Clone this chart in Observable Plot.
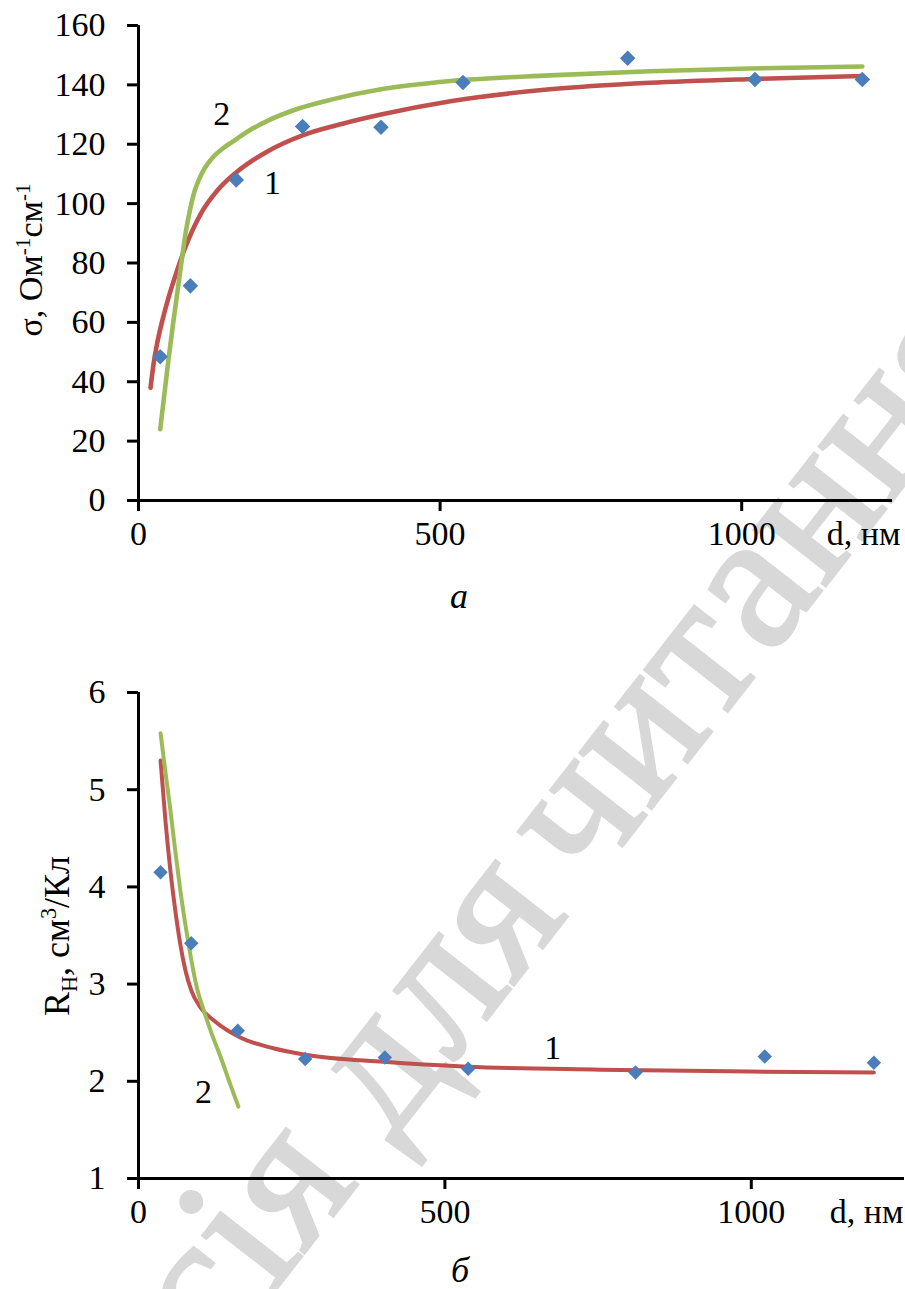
<!DOCTYPE html>
<html><head><meta charset="utf-8">
<script src="https://cdn.jsdelivr.net/npm/d3@7"></script>
<script src="https://cdn.jsdelivr.net/npm/@observablehq/plot@0.6"></script>
<style>
body{margin:0;background:#fff;}
#page{position:relative;width:905px;height:1289px;overflow:hidden;font-family:"Liberation Serif","Times New Roman",serif;color:#000;background:#fff;}
#page svg{position:absolute;left:0;}
.ylab{position:absolute;white-space:nowrap;font-size:34px;line-height:1;transform:translate(-50%,-50%) rotate(-90deg);}
.cap{position:absolute;font-style:italic;font-size:36px;line-height:0.8;transform:translateX(-50%);}
sup,sub{font-size:0.62em;line-height:0;}
</style></head><body><div id="page"></div>
<script>
// ---- data ----
const thickness = [36, 86, 162, 272, 402, 538, 811, 1022, 1200];         // d, nm
const sigmaMeasured = [48.4, 72.3, 108, 126, 125.7, 140.8, 149, 141.8, 141.8];
const hallMeasured = [4.15, 3.42, 2.52, 2.23, 2.245, 2.13, 2.09, 2.255, 2.19];

const sigmaFit1D = [20, 25, 31, 40, 50, 60, 78, 103, 131, 162, 213, 272, 340, 402, 517, 682, 848, 1021, 1200];
const sigmaFit1  = [38, 46, 53, 61, 68.5, 75, 85.5, 96.5, 104.5, 110.5, 117.5, 123, 127, 130, 134.5, 138.5, 140.7, 142, 143];
const sigmaFit2D = [36, 50, 58, 70, 78, 85, 92, 100, 110, 122, 138, 157, 185, 213, 268, 323, 402, 517, 682, 848, 1013, 1200];
const sigmaFit2  = [24, 48, 60.6, 78.5, 90, 97.5, 103.5, 108, 112, 115.3, 118.3, 121, 124.8, 127.8, 132.2, 135.2, 138.5, 141.3, 143.2, 144.6, 145.5, 146.2];

const hallFit1D = [36, 44, 52, 60, 68.5, 76.6, 86.4, 101, 122, 166, 220, 275, 400, 536, 753, 998, 1200];
const hallFit1  = [5.30, 4.68, 4.17, 3.76, 3.40, 3.14, 2.93, 2.76, 2.63, 2.45, 2.34, 2.27, 2.20, 2.15, 2.12, 2.10, 2.09];
const hallFit2D = [36, 44, 52, 60, 68.5, 82, 95, 107, 120, 134, 148, 163];
const hallFit2  = [5.58, 5.18, 4.79, 4.37, 3.95, 3.40, 2.97, 2.72, 2.48, 2.25, 2.00, 1.74];

const xTicks = [0, 500, 1000];
const sigmaTicks = [0, 20, 40, 60, 80, 100, 120, 140, 160];
const hallTicks = [1, 2, 3, 4, 5, 6];

const curveNames = ["1", "2"];
const sigmaLabelD = [222, 138], sigmaLabelV = [107, 130];
const hallLabelD = [676, 106], hallLabelV = [2.34, 1.885];

const xLabel = "d, нм";
const watermark = ["Версія для", "читання"];

// ---- build ----
const BLUE = "#4a7ebb", RED = "#c0504d", GREEN = "#9bbb59";
const FONT = "'Liberation Serif', 'Times New Roman', serif";
const FS = 34;
const zip = (xs, ys) => xs.map((d, i) => ({d, v: ys[i]}));
const labs = (xs, ys) => xs.map((d, i) => ({d, v: ys[i], t: curveNames[i]}));
const page = document.getElementById("page");

// watermark (behind the charts)
const ns = "http://www.w3.org/2000/svg";
const wm = document.createElementNS(ns, "svg");
wm.setAttribute("width", 905); wm.setAttribute("height", 1289); wm.style.top = "0px";
const g = document.createElementNS(ns, "g");
g.setAttribute("transform", "translate(588,890) rotate(-52)");
g.setAttribute("font-family", FONT); g.setAttribute("font-size", 198); g.setAttribute("fill", "#d8d8d8");
g.setAttribute("stroke", "#d8d8d8"); g.setAttribute("stroke-width", 3);
const t1 = document.createElementNS(ns, "text"); t1.setAttribute("x", -30); t1.setAttribute("text-anchor", "end"); t1.textContent = watermark[0];
const t2 = document.createElementNS(ns, "text"); t2.setAttribute("x", 0); t2.textContent = watermark[1];
g.append(t1, t2); wm.append(g); page.append(wm);

function panel({points, fit1, fit2, labels, yDomain, yTicks, width, height, marginTop, marginBottom, marginRight, r, sw, labelDx}) {
  return Plot.plot({
    width, height, marginLeft: 138, marginRight, marginTop, marginBottom,
    style: {fontFamily: FONT, fontSize: FS + "px", background: "transparent", overflow: "visible", color: "#000"},
    x: {domain: [0, 1250]},
    y: {domain: yDomain},
    marks: [
      Plot.axisX({ticks: xTicks, tickSize: 11, tickFormat: () => "", strokeWidth: 3, label: null}),
      Plot.axisY({ticks: yTicks, tickSize: 11, tickFormat: () => "", strokeWidth: 3, label: null}),
      Plot.text(xTicks, {x: d => d, frameAnchor: "bottom", dy: 44, text: d => String(d), fontSize: FS, fill: "#000"}),
      Plot.text(yTicks, {y: d => d, frameAnchor: "left", dx: -33, textAnchor: "end", text: d => String(d), fontSize: FS, fill: "#000"}),
      Plot.ruleX([0], {stroke: "#000", strokeWidth: 3}),
      Plot.ruleY([yDomain[0]], {stroke: "#000", strokeWidth: 3}),
      Plot.line(fit1, {x: "d", y: "v", stroke: RED, strokeWidth: sw, curve: "monotone-x"}),
      Plot.line(fit2, {x: "d", y: "v", stroke: GREEN, strokeWidth: sw, curve: "monotone-x"}),
      Plot.dot(points, {x: "d", y: "v", symbol: "diamond2", r, fill: BLUE, stroke: "none"}),
      Plot.text(labels, {x: "d", y: "v", text: "t", fontSize: FS, fill: "#000"}),
      Plot.text([xLabel], {frameAnchor: "bottom-right", textAnchor: "end", dx: labelDx, dy: 44, fontSize: FS, fill: "#000"})
    ]
  });
}

const topChart = panel({
  points: zip(thickness, sigmaMeasured), fit1: zip(sigmaFit1D, sigmaFit1), fit2: zip(sigmaFit2D, sigmaFit2),
  labels: labs(sigmaLabelD, sigmaLabelV), yDomain: [0, 160], yTicks: sigmaTicks,
  width: 905, height: 570, marginTop: 25, marginBottom: 70, marginRight: 13, r: 7, sw: 4.6, labelDx: 8
});
topChart.style.top = "0px";
page.append(topChart);

const botChart = panel({
  points: zip(thickness, hallMeasured), fit1: zip(hallFit1D, hallFit1), fit2: zip(hallFit2D, hallFit2),
  labels: labs(hallLabelD, hallLabelV), yDomain: [1, 6], yTicks: hallTicks,
  width: 905, height: 608, marginTop: 52, marginBottom: 70, marginRight: 1, r: 6.5, sw: 4, labelDx: -1
});
botChart.style.top = "640px";
page.append(botChart);

// axis titles and captions
function html(cls, left, top, inner, size) {
  const el = document.createElement("div");
  el.className = cls; el.style.left = left + "px"; el.style.top = top + "px"; el.innerHTML = inner;
  if (size) el.style.fontSize = size + "px";
  page.append(el);
}
html("ylab", 31, 260, "σ, Ом<sup>-1</sup>см<sup>-1</sup>");
html("ylab", 57, 936, "R<sub>Н</sub>, см<sup>3</sup>/Кл", 36);
html("cap", 459, 582, "а");
html("cap", 460, 1256, "б");
</script>
</body></html>
